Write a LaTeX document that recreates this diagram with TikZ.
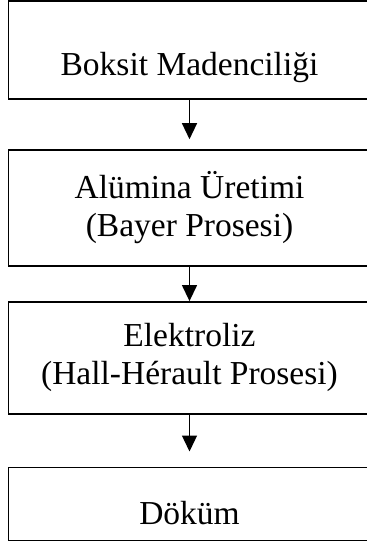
\documentclass[tikz,border=0pt]{standalone}
\usepackage{fontspec}
\setmainfont{Liberation Serif}
\usetikzlibrary{arrows.meta, positioning}

\begin{document}
\begin{tikzpicture}[x=1pt, y=1pt,
        stepbox/.style={draw, line width=1.4pt, rectangle, minimum width=362pt, align=center, inner sep=0pt, font=\fontsize{33.5}{38}\selectfont},
        arrow/.style={line width=1.3pt, -{Triangle[width=15pt, length=16pt]}}
    ]
        \useasboundingbox (0,0) rectangle (367,-544);

        \node[stepbox, minimum height=98pt, text height=58pt, text depth=8pt] (mining) at (189.5,-50) {Boksit Madenciliği};
        \node[stepbox, minimum height=116pt, below=49.5pt of mining] (alumina) {Alümina Üretimi\\(Bayer Prosesi)};
        \node[stepbox, minimum height=112pt, below=34.5pt of alumina] (electro) {Elektroliz\\(Hall-Hérault Prosesi)};
        \node[stepbox, minimum height=73.5pt, text height=49.5pt, text depth=8pt, below=52pt of electro] (casting) {Döküm};

        \draw[arrow] (mining.south) -- ([yshift=10pt]alumina.north);
        \draw[arrow] (alumina.south) -- (electro.north);
        \draw[arrow] (electro.south) -- ([yshift=15pt]casting.north);
    \end{tikzpicture}
\end{document}
